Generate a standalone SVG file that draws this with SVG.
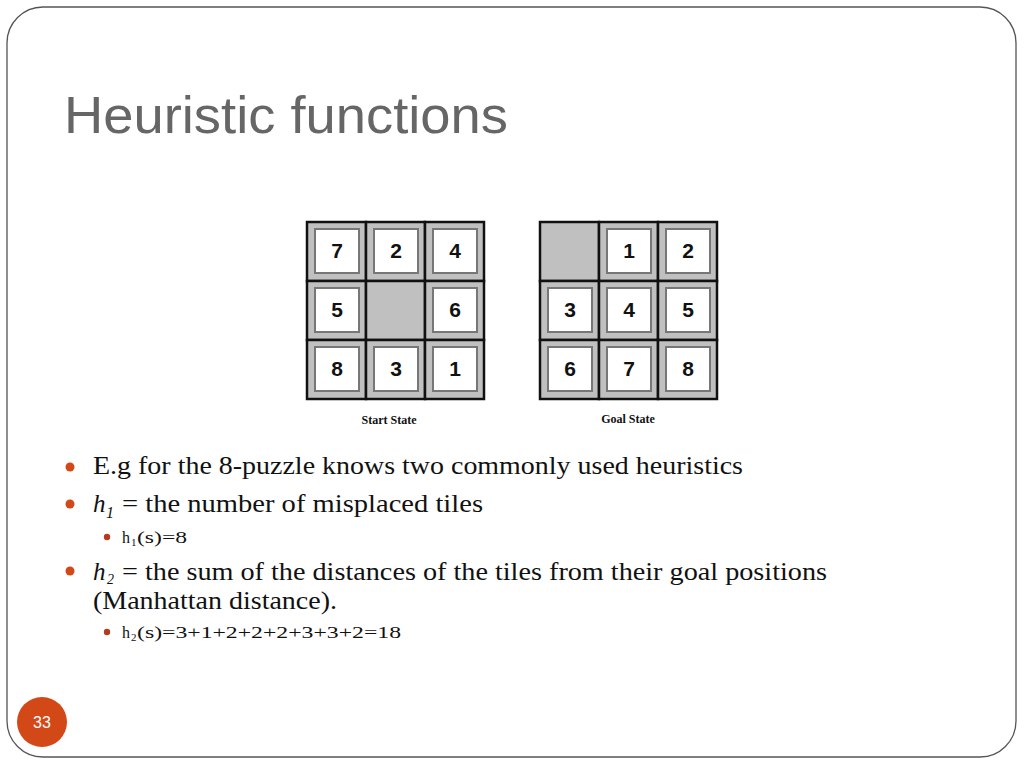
<svg xmlns="http://www.w3.org/2000/svg" width="1024" height="768" viewBox="0 0 1024 768">
<style>
.cell{fill:#c0c0c0;stroke:#111;stroke-width:2.5}
.tile{fill:#fff;stroke:#777;stroke-width:2}
.num{font-family:"Liberation Sans",Arial,sans-serif;font-weight:bold;font-size:21px;fill:#111;text-anchor:middle}
.cap{font-family:"Liberation Serif","Times New Roman",serif;font-weight:bold;font-size:12px;fill:#111;text-anchor:middle}
.body{font-family:"Liberation Serif","Times New Roman",serif;font-size:25px;fill:#111}
.sub{font-family:"Liberation Serif","Times New Roman",serif;font-size:16px;fill:#111}
.b1{fill:#d34817}
.b2{fill:#b83a1e}
</style>
<rect width="1024" height="768" fill="#fff"/>
<rect x="7" y="7" width="1009" height="750" rx="36" ry="36" fill="none" stroke="#555" stroke-width="1.3"/>
<text x="64" y="133" font-family="'Liberation Sans',Arial,sans-serif" font-size="52" fill="#666" textLength="444" lengthAdjust="spacingAndGlyphs">Heuristic functions</text>

<g id="start-state">
<rect class="cell" x="307" y="222" width="59" height="59"/>
<rect class="cell" x="366" y="222" width="59" height="59"/>
<rect class="cell" x="425" y="222" width="59" height="59"/>
<rect class="cell" x="307" y="281" width="59" height="59"/>
<rect class="cell" x="366" y="281" width="59" height="59"/>
<rect class="cell" x="425" y="281" width="59" height="59"/>
<rect class="cell" x="307" y="340" width="59" height="59"/>
<rect class="cell" x="366" y="340" width="59" height="59"/>
<rect class="cell" x="425" y="340" width="59" height="59"/>
<rect class="tile" x="315" y="229" width="44" height="44"/><text class="num" x="337" y="258">7</text>
<rect class="tile" x="374" y="229" width="44" height="44"/><text class="num" x="396" y="258">2</text>
<rect class="tile" x="433" y="229" width="44" height="44"/><text class="num" x="455" y="258">4</text>
<rect class="tile" x="315" y="288" width="44" height="44"/><text class="num" x="337" y="317">5</text>
<rect class="tile" x="433" y="288" width="44" height="44"/><text class="num" x="455" y="317">6</text>
<rect class="tile" x="315" y="347" width="44" height="44"/><text class="num" x="337" y="376">8</text>
<rect class="tile" x="374" y="347" width="44" height="44"/><text class="num" x="396" y="376">3</text>
<rect class="tile" x="433" y="347" width="44" height="44"/><text class="num" x="455" y="376">1</text>
<text class="cap" x="389" y="424">Start State</text>
</g>

<g id="goal-state">
<rect class="cell" x="540" y="222" width="59" height="59"/>
<rect class="cell" x="599" y="222" width="59" height="59"/>
<rect class="cell" x="658" y="222" width="59" height="59"/>
<rect class="cell" x="540" y="281" width="59" height="59"/>
<rect class="cell" x="599" y="281" width="59" height="59"/>
<rect class="cell" x="658" y="281" width="59" height="59"/>
<rect class="cell" x="540" y="340" width="59" height="59"/>
<rect class="cell" x="599" y="340" width="59" height="59"/>
<rect class="cell" x="658" y="340" width="59" height="59"/>
<rect class="tile" x="607" y="229" width="44" height="44"/><text class="num" x="629" y="258">1</text>
<rect class="tile" x="666" y="229" width="44" height="44"/><text class="num" x="688" y="258">2</text>
<rect class="tile" x="548" y="288" width="44" height="44"/><text class="num" x="570" y="317">3</text>
<rect class="tile" x="607" y="288" width="44" height="44"/><text class="num" x="629" y="317">4</text>
<rect class="tile" x="666" y="288" width="44" height="44"/><text class="num" x="688" y="317">5</text>
<rect class="tile" x="548" y="347" width="44" height="44"/><text class="num" x="570" y="376">6</text>
<rect class="tile" x="607" y="347" width="44" height="44"/><text class="num" x="629" y="376">7</text>
<rect class="tile" x="666" y="347" width="44" height="44"/><text class="num" x="688" y="376">8</text>
<text class="cap" x="628" y="423">Goal State</text>
</g>

<g id="bullets">
<circle class="b1" cx="70" cy="467" r="4.5"/>
<text class="body" x="93" y="474" textLength="650" lengthAdjust="spacingAndGlyphs">E.g for the 8-puzzle knows two commonly used heuristics</text>

<circle class="b1" cx="70" cy="504" r="4.5"/>
<text class="body" x="93" y="512" font-style="italic">h</text>
<text class="sub" x="106" y="518" font-style="italic">1</text>
<text class="body" x="122" y="512" textLength="361" lengthAdjust="spacingAndGlyphs">= the number of misplaced tiles</text>

<circle class="b2" cx="107" cy="537" r="3.2"/>
<text class="sub" x="122" y="543">h</text>
<text x="131" y="546" font-family="'Liberation Serif','Times New Roman',serif" font-size="11" fill="#111">1</text>
<text class="sub" x="137" y="543" textLength="50" lengthAdjust="spacingAndGlyphs">(s)=8</text>

<circle class="b1" cx="70" cy="571" r="4.5"/>
<text class="body" x="93" y="580" font-style="italic">h</text>
<text x="107" y="584" font-family="'Liberation Serif','Times New Roman',serif" font-size="14" font-style="italic" fill="#111">2</text>
<text class="body" x="122" y="580" textLength="705" lengthAdjust="spacingAndGlyphs">= the sum of the distances of the tiles from their goal positions</text>
<text class="body" x="93" y="609" textLength="244" lengthAdjust="spacingAndGlyphs">(Manhattan distance).</text>

<circle class="b2" cx="107" cy="632" r="3.2"/>
<text class="sub" x="122" y="638">h</text>
<text x="131" y="641" font-family="'Liberation Serif','Times New Roman',serif" font-size="11" fill="#111">2</text>
<text class="sub" x="137" y="638" textLength="264" lengthAdjust="spacingAndGlyphs">(s)=3+1+2+2+2+3+3+2=18</text>
</g>

<g id="page-number">
<circle cx="42" cy="722" r="25" fill="#d34817"/>
<text x="42" y="728" font-family="'Liberation Sans',Arial,sans-serif" font-size="16" fill="#fff" text-anchor="middle">33</text>
</g>
</svg>
